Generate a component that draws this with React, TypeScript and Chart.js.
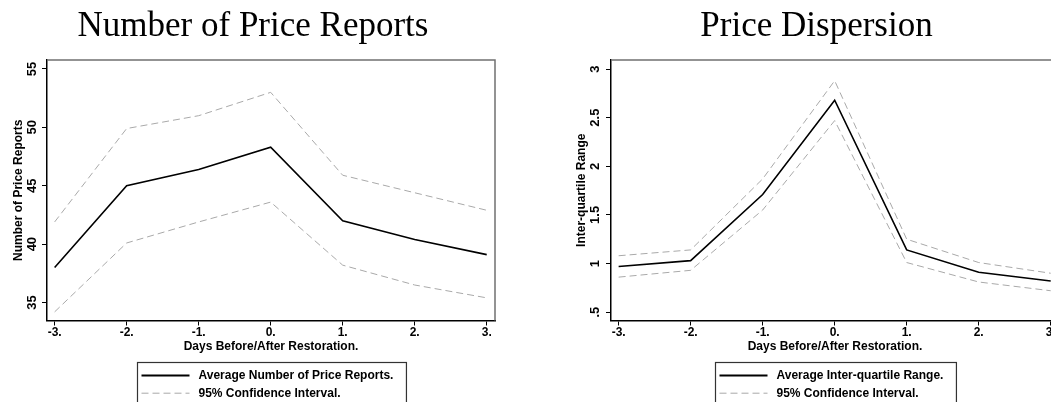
import React, { useEffect, useRef } from "react";
import { Chart, registerables } from "chart.js";

Chart.register(...registerables);

// ---------- data ----------
const DAYS = [-3, -2, -1, 0, 1, 2, 3];
const DAY_LABELS = ["-3.", "-2.", "-1.", "0.", "1.", "2.", "3."];

const REPORTS_MEAN = [38.0, 45.0, 46.4, 48.3, 42.0, 40.4, 39.1];
const REPORTS_UPPER = [41.9, 49.9, 51.0, 53.0, 45.9, 44.4, 42.9];
const REPORTS_LOWER = [34.2, 40.1, 41.9, 43.6, 38.2, 36.5, 35.4];
const REPORTS_Y_TICKS = [35, 40, 45, 50, 55];
const REPORTS_Y_LABELS = ["35", "40", "45", "50", "55"];

const IQR_MEAN = [0.97, 1.03, 1.71, 2.68, 1.14, 0.91, 0.82];
const IQR_UPPER = [1.08, 1.14, 1.87, 2.88, 1.25, 1.01, 0.9];
const IQR_LOWER = [0.86, 0.93, 1.55, 2.47, 1.01, 0.81, 0.72];
const IQR_Y_TICKS = [0.5, 1, 1.5, 2, 2.5, 3];
const IQR_Y_LABELS = [".5", "1", "1.5", "2", "2.5", "3"];

const X_TITLE = "Days Before/After Restoration.";
const CI_LABEL = "95% Confidence Interval.";

// ---------- style ----------
const FONT_SANS = "'Liberation Sans', Arial, Helvetica, sans-serif";
const FONT_SERIF = "'Liberation Serif', 'Times New Roman', serif";
const CI_COLOR = "#a9a9a9";

type PanelCfg = {
  title: string;
  yTitle: string;
  meanLabel: string;
  mean: number[];
  upper: number[];
  lower: number[];
  yMin: number;
  yMax: number;
  yTicks: number[];
  yLabels: string[];
  left: number;
  width: number;
  padL: number;
  padR: number;
  yAxisWidth: number;
  yTickPad: number;
};

const PANELS: PanelCfg[] = [
  {
    title: "Number of Price Reports",
    yTitle: "Number of Price Reports",
    meanLabel: "Average Number of Price Reports.",
    mean: REPORTS_MEAN,
    upper: REPORTS_UPPER,
    lower: REPORTS_LOWER,
    yMin: 33.46,
    yMax: 55.77,
    yTicks: REPORTS_Y_TICKS,
    yLabels: REPORTS_Y_LABELS,
    left: 0,
    width: 506,
    padL: 11,
    padR: 11,
    yAxisWidth: 36,
    yTickPad: 2.5,
  },
  {
    title: "Price Dispersion",
    yTitle: "Inter-quartile Range",
    meanLabel: "Average Inter-quartile Range.",
    mean: IQR_MEAN,
    upper: IQR_UPPER,
    lower: IQR_LOWER,
    yMin: 0.414,
    yMax: 3.093,
    yTicks: IQR_Y_TICKS,
    yLabels: IQR_Y_LABELS,
    left: 525,
    width: 544,
    padL: 49,
    padR: 10,
    yAxisWidth: 37,
    yTickPad: 1.5,
  },
];

const X_MIN = -3.106;
const X_MAX = 3.115;

const framePlugin = {
  id: "statFrame",
  afterDraw(chart: any) {
    const { ctx, chartArea } = chart;
    ctx.save();
    ctx.strokeStyle = "#707070";
    ctx.lineWidth = 1.5;
    ctx.beginPath();
    ctx.moveTo(chartArea.left, chartArea.top);
    ctx.lineTo(chartArea.right, chartArea.top);
    ctx.lineTo(chartArea.right, chartArea.bottom);
    ctx.stroke();
    ctx.restore();
  },
};

const boxedLegendPlugin = {
  id: "boxedLegend",
  afterDraw(chart: any, _args: any, opts: any) {
    const { ctx, chartArea } = chart;
    const idx: number[] = opts.items || [];
    const dss = idx.map((i) => chart.data.datasets[i]);
    ctx.save();
    ctx.font = `bold 12px ${FONT_SANS}`;
    const sample = 48;
    const gap = 9;
    const pl = 4;
    const pr = 13;
    const tw = Math.max(...dss.map((d: any) => ctx.measureText(d.label).width));
    const w = pl + sample + gap + tw + pr;
    const cx = (chartArea.left + chartArea.right) / 2;
    const x0 = Math.round(cx - w / 2) + 0.5;
    const y0 = Math.round(chartArea.bottom + 41.5) + 0.5;
    ctx.strokeStyle = "#333";
    ctx.lineWidth = 1.2;
    ctx.strokeRect(x0, y0, w, 80);
    dss.forEach((d: any, k: number) => {
      const y = y0 + 13 + k * 17.7;
      ctx.beginPath();
      ctx.strokeStyle = d.borderColor;
      ctx.lineWidth = k === 0 ? 2.2 : 1;
      ctx.setLineDash(d.borderDash || []);
      ctx.moveTo(x0 + pl, y);
      ctx.lineTo(x0 + pl + sample, y);
      ctx.stroke();
      ctx.setLineDash([]);
      ctx.fillStyle = "#000";
      ctx.textAlign = "left";
      ctx.textBaseline = "middle";
      ctx.fillText(d.label, x0 + pl + sample + gap, y);
    });
    ctx.restore();
  },
};

const pts = (arr: number[]) => DAYS.map((d, i) => ({ x: d, y: arr[i] }));

const zeroPad = (s: any) => {
  s.paddingLeft = 0;
  s.paddingRight = 0;
  s.paddingTop = 0;
  s.paddingBottom = 0;
};

function buildConfig(cfg: PanelCfg): any {
  const tickFont = { family: FONT_SANS, size: 12, weight: "bold" as const };
  const yTickFont = { family: FONT_SANS, size: 13, weight: "bold" as const };
  return {
    type: "line",
    data: {
      datasets: [
        {
          label: cfg.meanLabel,
          data: pts(cfg.mean),
          borderColor: "#000",
          borderWidth: 1.6,
          pointRadius: 0,
          tension: 0,
          fill: false,
        },
        {
          label: CI_LABEL,
          data: pts(cfg.upper),
          borderColor: CI_COLOR,
          borderWidth: 1,
          borderDash: [7, 4],
          pointRadius: 0,
          tension: 0,
          fill: false,
        },
        {
          label: CI_LABEL + " (lower)",
          data: pts(cfg.lower),
          borderColor: CI_COLOR,
          borderWidth: 1,
          borderDash: [7, 4],
          pointRadius: 0,
          tension: 0,
          fill: false,
        },
      ],
    },
    options: {
      animation: false,
      responsive: false,
      devicePixelRatio: 1,
      layout: { padding: { left: cfg.padL, right: cfg.padR, top: 0, bottom: 41.5 } },
      plugins: {
        legend: { display: false },
        tooltip: { enabled: false },
        title: {
          display: true,
          text: cfg.title,
          color: "#000",
          font: { family: FONT_SERIF, size: 35, weight: "normal", lineHeight: 1.2 },
          padding: { top: 6, bottom: 12 },
        },
        boxedLegend: { items: [0, 1] },
      },
      scales: {
        x: {
          type: "linear",
          min: X_MIN,
          max: X_MAX,
          bounds: "data",
          afterBuildTicks: (s: any) => {
            s.ticks = DAYS.map((v) => ({ value: v }));
          },
          afterFit: (s: any) => {
            s.height = 40;
            zeroPad(s);
          },
          ticks: {
            autoSkip: false,
            maxRotation: 0,
            minRotation: 0,
            padding: 0,
            color: "#000",
            font: tickFont,
            callback: (_v: any, i: number) => DAY_LABELS[i],
          },
          grid: {
            display: true,
            drawOnChartArea: false,
            drawTicks: true,
            tickLength: 5,
            color: "#000",
            lineWidth: 1,
          },
          border: { display: true, color: "#000", width: 1.5 },
          title: {
            display: true,
            text: X_TITLE,
            color: "#000",
            font: tickFont,
            padding: { top: 0, bottom: 6.3 },
          },
        },
        y: {
          type: "linear",
          min: cfg.yMin,
          max: cfg.yMax,
          bounds: "data",
          afterBuildTicks: (s: any) => {
            s.ticks = cfg.yTicks.map((v) => ({ value: v }));
          },
          afterFit: (s: any) => {
            s.width = cfg.yAxisWidth;
            zeroPad(s);
          },
          ticks: {
            autoSkip: false,
            minRotation: 90,
            maxRotation: 90,
            crossAlign: "center",
            padding: cfg.yTickPad,
            color: "#000",
            font: yTickFont,
            callback: (_v: any, i: number) => cfg.yLabels[i],
          },
          grid: {
            display: true,
            drawOnChartArea: false,
            drawTicks: true,
            tickLength: 5,
            color: "#000",
            lineWidth: 1,
          },
          border: { display: true, color: "#000", width: 1.5 },
          title: {
            display: true,
            text: cfg.yTitle,
            color: "#000",
            font: tickFont,
            padding: { top: 0, bottom: 0 },
          },
        },
      },
    },
    plugins: [framePlugin, boxedLegendPlugin],
  };
}

function Panel({ cfg }: { cfg: PanelCfg }) {
  const ref = useRef<HTMLCanvasElement>(null);
  useEffect(() => {
    const chart = new Chart(ref.current as HTMLCanvasElement, buildConfig(cfg));
    return () => chart.destroy();
  }, [cfg]);
  return (
    <canvas
      ref={ref}
      width={cfg.width}
      height={402}
      style={{
        position: "absolute",
        left: cfg.left,
        top: 0,
        width: cfg.width,
        height: 402,
        display: "block",
      }}
    />
  );
}

export default function App() {
  return (
    <div
      style={{
        position: "fixed",
        left: 0,
        top: 0,
        width: 1051,
        height: 402,
        overflow: "hidden",
        background: "#fff",
      }}
    >
      {PANELS.map((p, i) => (
        <Panel key={i} cfg={p} />
      ))}
    </div>
  );
}
